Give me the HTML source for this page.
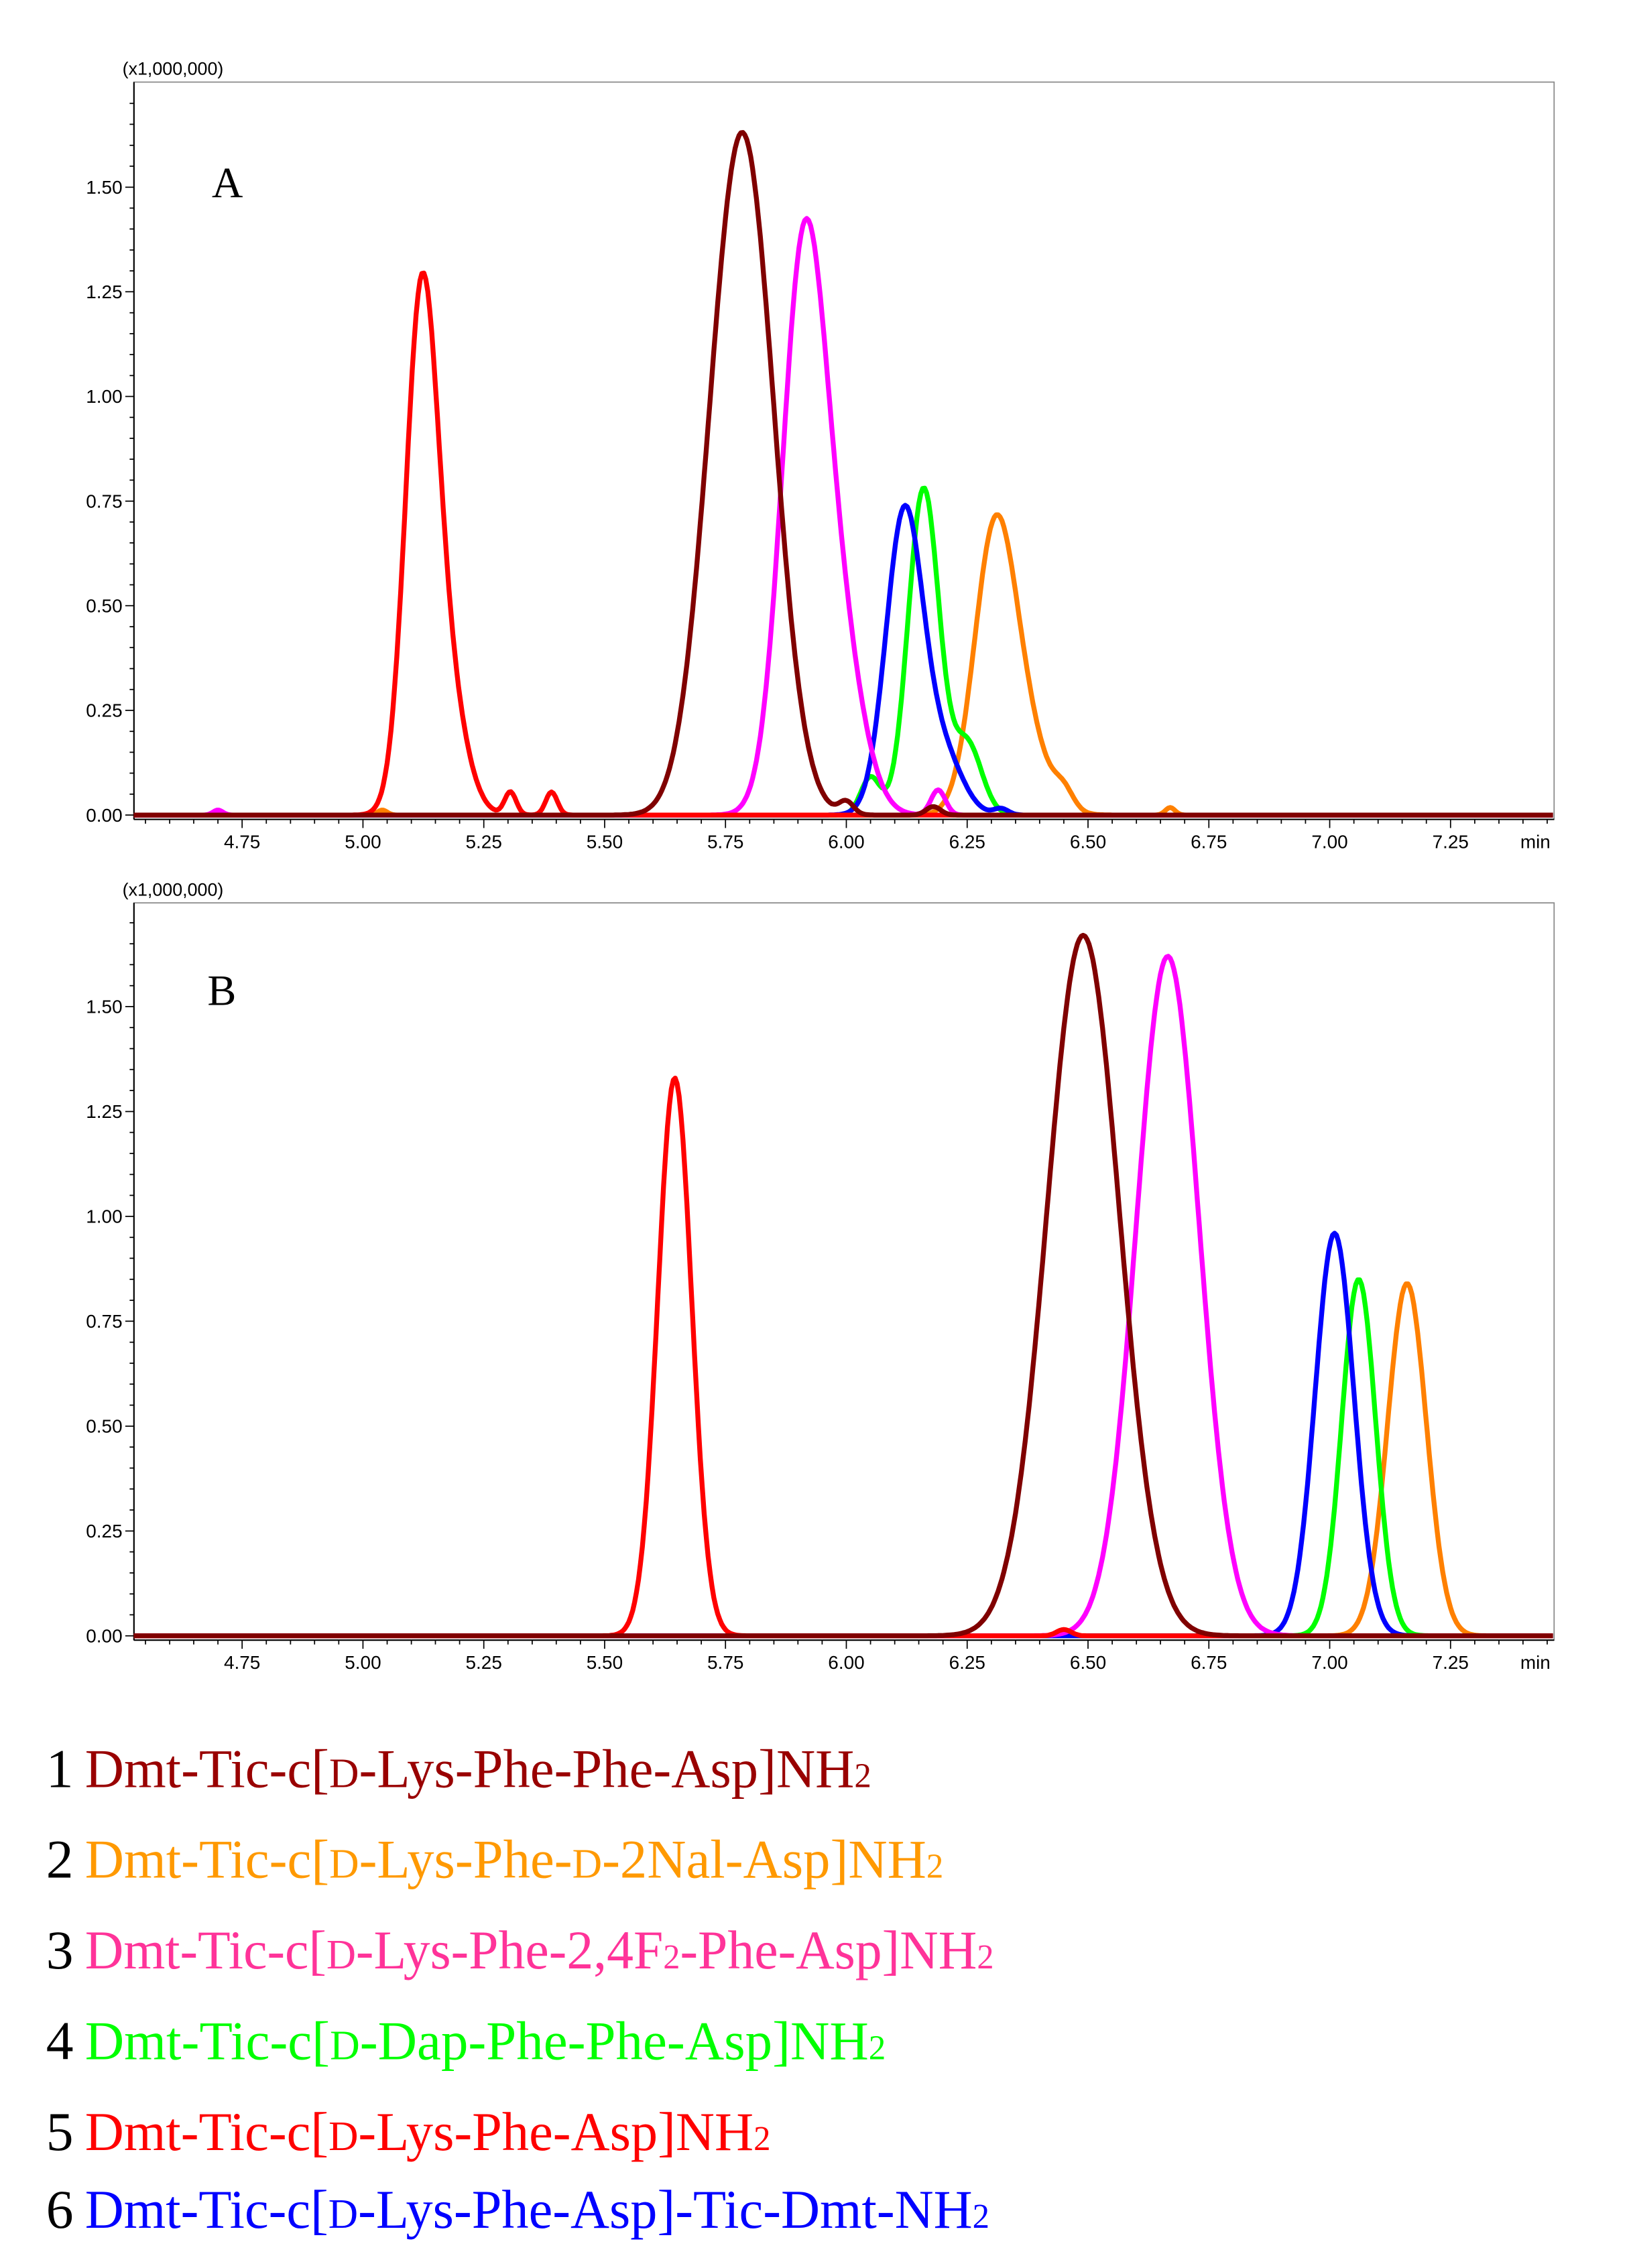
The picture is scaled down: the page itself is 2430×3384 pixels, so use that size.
<!DOCTYPE html>
<html><head><meta charset="utf-8">
<style>html,body{margin:0;padding:0;background:#fff;}svg{display:block}</style>
</head><body>
<svg id="s" xmlns="http://www.w3.org/2000/svg" width="2430" height="3384" viewBox="0 0 1131 1575">
<rect width="1131" height="1575" fill="#fff"/>
<g id="g"></g>
<g font-family="'Liberation Serif', serif" font-size="38">
<text x="32" y="1241" fill="#000">1</text>
<text x="59" y="1241" fill="#990000" textLength="546" lengthAdjust="spacingAndGlyphs">Dmt-Tic-c[<tspan font-size="29">D</tspan>-Lys-Phe-Phe-Asp]NH<tspan font-size="24">2</tspan></text>
<text x="32" y="1304" fill="#000">2</text>
<text x="59" y="1304" fill="#ff9900" textLength="596" lengthAdjust="spacingAndGlyphs">Dmt-Tic-c[<tspan font-size="29">D</tspan>-Lys-Phe-<tspan font-size="29">D</tspan>-2Nal-Asp]NH<tspan font-size="24">2</tspan></text>
<text x="32" y="1367" fill="#000">3</text>
<text x="59" y="1367" fill="#ff3399" textLength="631" lengthAdjust="spacingAndGlyphs">Dmt-Tic-c[<tspan font-size="29">D</tspan>-Lys-Phe-2,4F<tspan font-size="24">2</tspan>-Phe-Asp]NH<tspan font-size="24">2</tspan></text>
<text x="32" y="1430" fill="#000">4</text>
<text x="59" y="1430" fill="#00ff00" textLength="556" lengthAdjust="spacingAndGlyphs">Dmt-Tic-c[<tspan font-size="29">D</tspan>-Dap-Phe-Phe-Asp]NH<tspan font-size="24">2</tspan></text>
<text x="32" y="1493" fill="#000">5</text>
<text x="59" y="1493" fill="#ff0000" textLength="476" lengthAdjust="spacingAndGlyphs">Dmt-Tic-c[<tspan font-size="29">D</tspan>-Lys-Phe-Asp]NH<tspan font-size="24">2</tspan></text>
<text x="32" y="1547" fill="#000">6</text>
<text x="59" y="1547" fill="#0000ff" textLength="628" lengthAdjust="spacingAndGlyphs">Dmt-Tic-c[<tspan font-size="29">D</tspan>-Lys-Phe-Asp]-Tic-Dmt-NH<tspan font-size="24">2</tspan></text>
</g>
</svg>
<script>
(function(){
var g=document.getElementById('g'),out="";
var L=93,R=1079;
function X(t){return 252+(t-5)*335.6;}
function panel(top,y0,sc,letter,ly,peaks){
  out+='<rect x="'+L+'" y="'+top+'" width="'+(R-L)+'" height="'+(y0+3-top)+'" fill="none" stroke="#888" stroke-width="0.8"/>';
  out+='<line x1="'+L+'" y1="'+top+'" x2="'+L+'" y2="'+(y0+3)+'" stroke="#000" stroke-width="1"/>';
  out+='<line x1="'+L+'" y1="'+(y0+3)+'" x2="'+R+'" y2="'+(y0+3)+'" stroke="#000" stroke-width="1"/>';
  out+='<text x="85" y="'+(top-5)+'" font-family="Liberation Sans,sans-serif" font-size="12.5">(x1,000,000)</text>';
  for(var i=0;i<=34;i++){var v=i*0.05,y=y0-v*sc;if(y<top)break;var maj=(i%5==0);
    out+='<line x1="'+(L-(maj?6:3))+'" y1="'+y.toFixed(1)+'" x2="'+L+'" y2="'+y.toFixed(1)+'" stroke="#000" stroke-width="0.8"/>';
    if(maj)out+='<text x="'+(L-8)+'" y="'+(y+4.5).toFixed(1)+'" text-anchor="end" font-family="Liberation Sans,sans-serif" font-size="13">'+v.toFixed(2)+'</text>';}
  for(var k=0;k<60;k++){var t=4.55+k*0.05;var x=X(t);if(x>R)break;var maj=Math.abs((t*4)-Math.round(t*4))<1e-6;
    out+='<line x1="'+x.toFixed(1)+'" y1="'+(y0+3)+'" x2="'+x.toFixed(1)+'" y2="'+(y0+3+(maj?6:3))+'" stroke="#000" stroke-width="0.8"/>';
    if(maj&&t>4.7&&t<7.3)out+='<text x="'+x.toFixed(1)+'" y="'+(y0+23)+'" text-anchor="middle" font-family="Liberation Sans,sans-serif" font-size="13">'+t.toFixed(2)+'</text>';}
  out+='<text x="1066" y="'+(y0+23)+'" text-anchor="middle" font-family="Liberation Sans,sans-serif" font-size="13">min</text>';
  out+='<text x="'+(letter=='A'?147:144)+'" y="'+ly+'" font-family="Liberation Serif,serif" font-size="30">'+letter+'</text>';
  peaks.forEach(function(p){
    var d="";
    for(var t=4.526;t<=7.465;t+=0.004){var v=0;
      p.c.forEach(function(c){v+=c[1]*Math.exp(-0.5*Math.pow((t-c[0])/c[2],2));});
      d+=(d?"L":"M")+X(t).toFixed(1)+","+(y0-v*sc).toFixed(1);}
    out+='<path d="'+d+'" fill="none" stroke="'+p.col+'" stroke-width="3.4" stroke-linejoin="round"/>';
  });
}
panel(57,566,290.7,'A',137,[
 {col:'#ff8000',c:[[6.305,0.6,0.042],[6.36,0.2,0.05],[6.45,0.04,0.02],[5.04,0.012,0.01],[6.67,0.018,0.01]]},
 {col:'#00ff00',c:[[6.16,0.78,0.032],[6.05,0.09,0.02],[6.25,0.17,0.03]]},
 {col:'#0000ff',c:[[6.12,0.72,0.038],[6.2,0.14,0.04],[6.32,0.015,0.015]]},
 {col:'#ff00ff',c:[[5.91,1.25,0.045],[5.98,0.42,0.05],[6.19,0.06,0.015],[4.7,0.012,0.01]]},
 {col:'#ff0000',c:[[5.12,1.15,0.033],[5.17,0.3,0.04],[5.305,0.055,0.012],[5.39,0.055,0.012]]},
 {col:'#800000',c:[[5.79,1.55,0.062],[5.72,0.2,0.05],[6.0,0.03,0.015],[6.18,0.02,0.015]]}
]);
panel(627,1136,291.3,'B',698,[
 {col:'#ff8000',c:[[7.16,0.84,0.04]]},
 {col:'#00ff00',c:[[7.06,0.85,0.035]]},
 {col:'#0000ff',c:[[7.01,0.96,0.04]]},
 {col:'#ff00ff',c:[[6.665,1.62,0.065]]},
 {col:'#ff0000',c:[[5.645,1.33,0.035],[6.45,0.015,0.015]]},
 {col:'#800000',c:[[6.49,1.67,0.075]]}
]);
g.innerHTML=out;
})();
</script>
</body></html>
